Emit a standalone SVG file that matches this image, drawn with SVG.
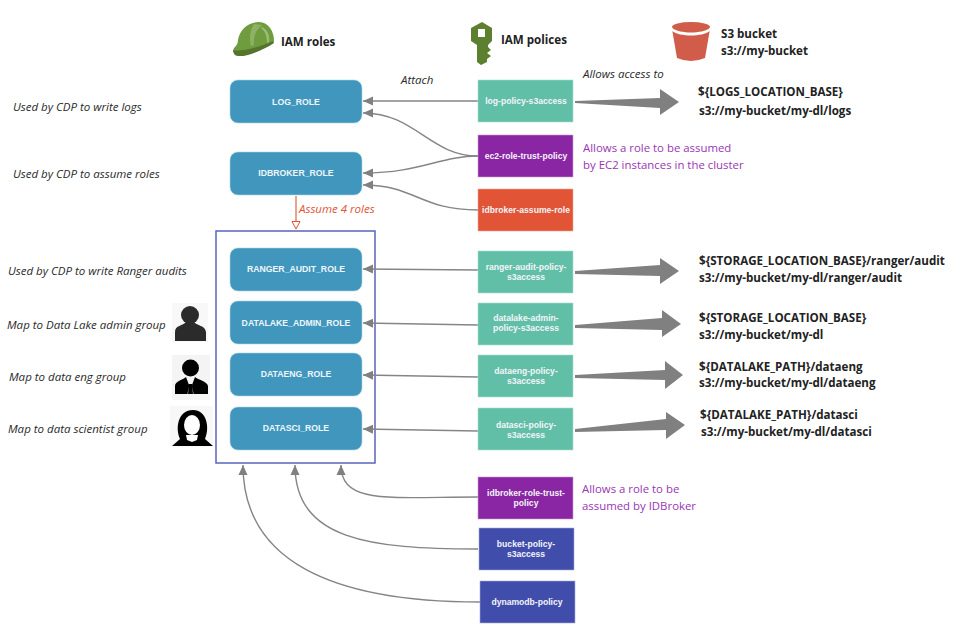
<svg xmlns="http://www.w3.org/2000/svg" width="974" height="633" viewBox="0 0 974 633">
<style>
text{font-family:"Open Sans","Noto Sans","Liberation Sans",sans-serif}
.role rect{fill:#4096bc;stroke:#a9d3e4;stroke-width:.6}
.role text{font-family:"Liberation Sans",Arial,sans-serif;font-size:8.7px;font-weight:700;fill:#eef7fb;text-anchor:middle}
.pol text{font-family:"Liberation Sans",Arial,sans-serif;font-size:8.6px;font-weight:700;fill:#f4f4fa;text-anchor:middle}
.pol rect{stroke-width:.6}
.g rect{fill:#60bfa6;stroke:#a8dccd}
.v rect{fill:#8a26a3;stroke:#c79ad3}
.r rect{fill:#e15435;stroke:#efa896}
.b rect{fill:#414dab;stroke:#a7acdb}
.n{font-size:11.5px;font-style:italic;fill:#2a2a2a}
.h{font-size:11.6px;font-weight:700;fill:#222}
.t{font-size:11.6px;font-weight:700;fill:#222}
.p{font-size:11.4px;fill:#9a35b5}
.c{fill:none;stroke:#858585;stroke-width:1.4;marker-end:url(#ah)}
.big{fill:#808080}
</style>
<defs>
<marker id="ah" markerUnits="userSpaceOnUse" markerWidth="11" markerHeight="10" refX="10" refY="5" orient="auto"><path d="M10 5L0 .5V9.500Z" fill="#808080"/></marker>
<marker id="oh" markerUnits="userSpaceOnUse" markerWidth="10" markerHeight="10" refX="8.500" refY="4.500" orient="auto"><path d="M1 .5V8.500L8.500 4.500Z" fill="#fff" stroke="#e15435" stroke-width="1"/></marker>
</defs>
<rect width="974" height="633" fill="#fff"/>

<g id="iam-roles-header">
<path d="M234 48C236 46 238 44 238 40C240 28 250 22 259 22C269 22 274 32 274 41C272 46 256 52 246 55C239 57 231 54 234 48Z" fill="#6f9c3f"/>
<path d="M233 50C238 52 258 48 273 41L274 43C262 51 245 57 238 56C235 56 233 53 233 50Z" fill="#55752d"/>
<path d="M254 24C250 30 249 38 251 46L254 45C253 37 256 30 262 25Z" fill="#8fb066"/>
<path d="M262 27C268 30 270 36 269 42L267 43C267 36 265 31 261 28Z" fill="#9dbb75"/>
<text class="h" x="281" y="46">IAM roles</text>
</g>
<g id="iam-policies-header">
<path d="M471 28L482 22L492 28V41L488 45V47L491 50L487 53L491 56L487 59V62L481 65L477 62V45L471 41Z" fill="#5d7f30"/>
<rect x="478" y="29" width="7" height="8" fill="#fff"/>
<text class="h" x="501" y="44">IAM polices</text>
</g>
<g id="s3-header">
<path d="M672 29H710L705 58Q691 64 677 58Z" fill="#d05c49"/>
<ellipse cx="691" cy="27" rx="19" ry="5" fill="#d05c49"/>
<path d="M672 28C680 34 702 34 710 28V31C702 37 680 37 672 31Z" fill="#fff"/>
<text class="h" x="721" y="38">S3 bucket</text>
<text class="h" x="721" y="55">s3://my-bucket</text>
</g>

<g id="role-container"><rect x="216" y="231" width="159" height="232" fill="#fff" stroke="#5a64bc" stroke-width="1.500"/></g>

<g id="connectors">
<path class="c" d="M478 101H363"/>
<path class="c" d="M478 156C430 156 415 113 363 113"/>
<path class="c" d="M478 156C440 156 420 173 363 173"/>
<path class="c" d="M478 210C420 210 415 185 363 185"/>
<path class="c" d="M478 270L363 269"/>
<path class="c" d="M478 325L363 323"/>
<path class="c" d="M478 377L363 375"/>
<path class="c" d="M478 431L363 429"/>
<path class="c" d="M478 497C390 497 341 505 341 465"/>
<path class="c" d="M478 549C370 549 295 540 295 465"/>
<path class="c" d="M480 602C330 602 243 560 243 465"/>
<path d="M296 196V229" fill="none" stroke="#e15435" stroke-width="1.100" marker-end="url(#oh)"/>
<path class="big" d="M575 101L660 98V89L679 102L660 115V108L575 103Z"/>
<path class="big" d="M575 271L660 265V258L679 271L660 284V276L575 274Z"/>
<path class="big" d="M575 325L662 318V310L681 324L662 337V330L575 328Z"/>
<path class="big" d="M575 375L665 370V361L683 375L665 389V380L575 378Z"/>
<path class="big" d="M575 429L666 419V412L685 425L666 439V430L575 432Z"/>
</g>

<g id="log-role" class="role"><rect x="230" y="80" width="132" height="43" rx="8"/><text x="296" y="104.500">LOG_ROLE</text></g>
<g id="idbroker-role" class="role"><rect x="230" y="152" width="132" height="43" rx="8"/><text x="296" y="176">IDBROKER_ROLE</text></g>
<g id="ranger-audit-role" class="role"><rect x="230" y="248" width="132" height="43" rx="8"/><text x="296" y="272">RANGER_AUDIT_ROLE</text></g>
<g id="datalake-admin-role" class="role"><rect x="230" y="301" width="132" height="43" rx="8"/><text x="296" y="325.500">DATALAKE_ADMIN_ROLE</text></g>
<g id="dataeng-role" class="role"><rect x="230" y="353" width="132" height="43" rx="8"/><text x="296" y="377">DATAENG_ROLE</text></g>
<g id="datasci-role" class="role"><rect x="230" y="407" width="132" height="43" rx="8"/><text x="296" y="431">DATASCI_ROLE</text></g>

<g id="log-policy" class="pol g"><rect x="478" y="80" width="95" height="42"/><text x="526" y="104">log-policy-s3access</text></g>
<g id="ec2-trust" class="pol v"><rect x="478" y="135" width="95" height="42"/><text x="526" y="159">ec2-role-trust-policy</text></g>
<g id="idbroker-assume" class="pol r"><rect x="478" y="189" width="95" height="42"/><text x="526" y="213">idbroker-assume-role</text></g>
<g id="ranger-policy" class="pol g"><rect x="478" y="251" width="95" height="42"/><text x="526" y="270">ranger-audit-policy-</text><text x="526" y="280">s3access</text></g>
<g id="datalake-policy" class="pol g"><rect x="478" y="303" width="95" height="42"/><text x="526" y="321">datalake-admin-</text><text x="526" y="331">policy-s3access</text></g>
<g id="dataeng-policy" class="pol g"><rect x="478" y="355" width="95" height="42"/><text x="526" y="374">dataeng-policy-</text><text x="526" y="384">s3access</text></g>
<g id="datasci-policy" class="pol g"><rect x="478" y="408" width="95" height="42"/><text x="526" y="428">datasci-policy-</text><text x="526" y="438">s3access</text></g>
<g id="idbroker-trust" class="pol v"><rect x="478" y="477" width="95" height="42"/><text x="526" y="496">idbroker-role-trust-</text><text x="526" y="506">policy</text></g>
<g id="bucket-policy" class="pol b"><rect x="479" y="528" width="95" height="42"/><text x="526" y="547">bucket-policy-</text><text x="526" y="557">s3access</text></g>
<g id="dynamodb-policy" class="pol b"><rect x="480" y="581" width="95" height="42"/><text x="527" y="605">dynamodb-policy</text></g>

<g id="labels-left">
<text class="n" x="13" y="111">Used by CDP to write logs</text>
<text class="n" x="13" y="178">Used by CDP to assume roles</text>
<text class="n" x="8" y="275">Used by CDP to write Ranger audits</text>
<text class="n" x="7" y="329">Map to Data Lake admin group</text>
<text class="n" x="9" y="381">Map to data eng group</text>
<text class="n" x="8" y="433">Map to data scientist group</text>
</g>
<g id="labels-mid">
<text class="n" x="401" y="84">Attach</text>
<text class="n" x="583" y="78">Allows access to</text>
<text class="n" x="299" y="213" style="fill:#e15435">Assume 4 roles</text>
<text class="p" x="583" y="152">Allows a role to be assumed</text>
<text class="p" x="583" y="169">by EC2 instances in the cluster</text>
<text class="p" x="582" y="493">Allows a role to be</text>
<text class="p" x="582" y="510">assumed by IDBroker</text>
</g>

<g id="person-admin" fill="#2b2b2b"><rect x="172" y="303" width="36" height="39" fill="#f8f8f8"/><circle cx="190" cy="315" r="9"/><path d="M175 341V332C175 325 183 326 186 322H194C197 326 205 325 206 332V341Z"/></g>
<g id="person-eng" fill="#000"><rect x="172" y="355" width="38" height="45" fill="#f4f4f4"/><circle cx="190.500" cy="368" r="8.500"/><path d="M175 394V386C175 381 183 380 186 377L189 385L187.500 394ZM208 394V386C207 381 198 380 195 377L192 385L193.500 394ZM189 384H192L193 394H188Z"/></g>
<g id="person-sci"><rect x="170" y="406" width="43" height="41" fill="#f8f8f8"/><path d="M172 446L180 439C175 428 178 410 193 410C207 410 210 428 205 439L213 446Z" fill="#000"/><ellipse cx="192" cy="425" rx="8" ry="10" fill="#fff"/><path d="M186 435H198L197 440L192 442L187 440Z" fill="#fff"/></g>

<g id="paths">
<text class="t" x="698" y="96">${LOGS_LOCATION_BASE}</text>
<text class="t" x="699" y="115">s3://my-bucket/my-dl/logs</text>
<text class="t" x="699" y="265">${STORAGE_LOCATION_BASE}/ranger/audit</text>
<text class="t" x="699" y="282">s3://my-bucket/my-dl/ranger/audit</text>
<text class="t" x="699" y="322">${STORAGE_LOCATION_BASE}</text>
<text class="t" x="699" y="339">s3://my-bucket/my-dl</text>
<text class="t" x="699" y="371">${DATALAKE_PATH}/dataeng</text>
<text class="t" x="699" y="387">s3://my-bucket/my-dl/dataeng</text>
<text class="t" x="700" y="419">${DATALAKE_PATH}/datasci</text>
<text class="t" x="701" y="436">s3://my-bucket/my-dl/datasci</text>
</g>
</svg>
